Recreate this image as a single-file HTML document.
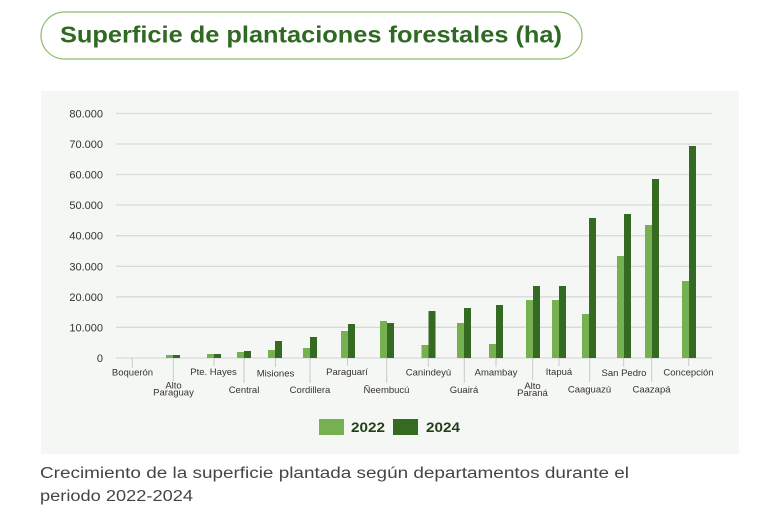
<!DOCTYPE html>
<html>
<head>
<meta charset="utf-8">
<style>
  html,body{margin:0;padding:0;background:#ffffff;}
  body{width:757px;height:521px;overflow:hidden;}
  svg{display:block;}
  text{font-family:"Liberation Sans", sans-serif;}
</style>
</head>
<body>
<svg width="757" height="521" viewBox="0 0 757 521" xmlns="http://www.w3.org/2000/svg">
  <!-- Title pill -->
  <rect x="41" y="12" width="541" height="47" rx="23.5" ry="23.5" fill="#ffffff" stroke="#8dbb6a" stroke-width="1.2"/>
  <text x="60" y="42.5" font-size="23" font-weight="bold" fill="#2f6a22" textLength="502" lengthAdjust="spacingAndGlyphs">Superficie de plantaciones forestales (ha)</text>

  <!-- Chart panel -->
  <rect x="41" y="91" width="698" height="363" fill="#f5f7f4"/>

  <!-- Gridlines -->
  <g stroke="#d9dad8" stroke-width="1.3">
    <line x1="116" y1="113.5" x2="712" y2="113.5"/>
    <line x1="116" y1="144" x2="712" y2="144"/>
    <line x1="116" y1="174.5" x2="712" y2="174.5"/>
    <line x1="116" y1="205" x2="712" y2="205"/>
    <line x1="116" y1="235.7" x2="712" y2="235.7"/>
    <line x1="116" y1="266.3" x2="712" y2="266.3"/>
    <line x1="116" y1="296.8" x2="712" y2="296.8"/>
    <line x1="116" y1="327.3" x2="712" y2="327.3"/>
    <line x1="116" y1="358" x2="712" y2="358"/>
  </g>

  <!-- Y labels -->
  <g font-size="11" fill="#333" text-anchor="end">
    <text x="103" y="117.5">80.000</text>
    <text x="103" y="148">70.000</text>
    <text x="103" y="178.5">60.000</text>
    <text x="103" y="209">50.000</text>
    <text x="103" y="239.7">40.000</text>
    <text x="103" y="270.3">30.000</text>
    <text x="103" y="300.8">20.000</text>
    <text x="103" y="331.3">10.000</text>
    <text x="103" y="362">0</text>
  </g>

  <!-- Bars -->
  <g>
    <!-- light 2022 -->
    <g fill="#77b050">
      <rect x="166" y="355" width="7" height="3"/>
      <rect x="207" y="354" width="7" height="4"/>
      <rect x="237" y="352" width="7" height="6"/>
      <rect x="268" y="350" width="7" height="8"/>
      <rect x="303" y="348" width="7" height="10"/>
      <rect x="341" y="331" width="7" height="27"/>
      <rect x="380" y="321" width="7" height="37"/>
      <rect x="421.5" y="345" width="7" height="13"/>
      <rect x="457" y="323" width="7" height="35"/>
      <rect x="489" y="344" width="7" height="14"/>
      <rect x="526" y="300" width="7" height="58"/>
      <rect x="552" y="300" width="7" height="58"/>
      <rect x="582" y="314" width="7" height="44"/>
      <rect x="617" y="256" width="7" height="102"/>
      <rect x="645" y="225" width="7" height="133"/>
      <rect x="682" y="281" width="7" height="77"/>
    </g>
    <!-- dark 2024 -->
    <g fill="#346a21">
      <rect x="173" y="355" width="7" height="3"/>
      <rect x="214" y="354" width="7" height="4"/>
      <rect x="244" y="351" width="7" height="7"/>
      <rect x="275" y="341" width="7" height="17"/>
      <rect x="310" y="337" width="7" height="21"/>
      <rect x="348" y="324" width="7" height="34"/>
      <rect x="387" y="323" width="7" height="35"/>
      <rect x="428.5" y="311" width="7" height="47"/>
      <rect x="464" y="308" width="7" height="50"/>
      <rect x="496" y="305" width="7" height="53"/>
      <rect x="533" y="286" width="7" height="72"/>
      <rect x="559" y="286" width="7" height="72"/>
      <rect x="589" y="218" width="7" height="140"/>
      <rect x="624" y="214" width="7" height="144"/>
      <rect x="652" y="179" width="7" height="179"/>
      <rect x="689" y="146" width="7" height="212"/>
    </g>
  </g>

  <!-- X ticks -->
  <g stroke="#c9cac8" stroke-width="1">
    <line x1="132.3" y1="358" x2="132.3" y2="368"/>
    <line x1="173.3" y1="358" x2="173.3" y2="381"/>
    <line x1="214" y1="358" x2="214" y2="366"/>
    <line x1="244" y1="358" x2="244" y2="383"/>
    <line x1="275.5" y1="358" x2="275.5" y2="367"/>
    <line x1="310" y1="358" x2="310" y2="383"/>
    <line x1="347.5" y1="358" x2="347.5" y2="366"/>
    <line x1="386.7" y1="358" x2="386.7" y2="383"/>
    <line x1="428.3" y1="358" x2="428.3" y2="367"/>
    <line x1="464.3" y1="358" x2="464.3" y2="383"/>
    <line x1="496" y1="358" x2="496" y2="367"/>
    <line x1="532.7" y1="358" x2="532.7" y2="380"/>
    <line x1="559" y1="358" x2="559" y2="366"/>
    <line x1="589.7" y1="358" x2="589.7" y2="382"/>
    <line x1="623.7" y1="358" x2="623.7" y2="367"/>
    <line x1="651.7" y1="358" x2="651.7" y2="382"/>
    <line x1="688.7" y1="358" x2="688.7" y2="366"/>
  </g>

  <!-- X labels -->
  <g font-size="9.5" fill="#333" text-anchor="middle">
    <text x="132.5" y="375.5">Boquerón</text>
    <text x="173.5" y="388.5">Alto</text>
    <text x="173.5" y="395.5">Paraguay</text>
    <text x="213.5" y="375">Pte. Hayes</text>
    <text x="244" y="393">Central</text>
    <text x="275.5" y="376.5">Misiones</text>
    <text x="310" y="393">Cordillera</text>
    <text x="347" y="375">Paraguarí</text>
    <text x="386.5" y="393">Ñeembucú</text>
    <text x="428.5" y="375.5">Canindeyú</text>
    <text x="464" y="393">Guairá</text>
    <text x="496" y="375.5">Amambay</text>
    <text x="532.5" y="389">Alto</text>
    <text x="532.5" y="396">Paraná</text>
    <text x="559" y="375">Itapuá</text>
    <text x="589.5" y="392.5">Caaguazú</text>
    <text x="624" y="376">San Pedro</text>
    <text x="651.5" y="392.5">Caazapá</text>
    <text x="688.5" y="375.5">Concepción</text>
  </g>

  <!-- Legend -->
  <rect x="319" y="419" width="25" height="16" fill="#77b050"/>
  <text x="351" y="432" font-size="13.5" font-weight="bold" fill="#23401a" textLength="34" lengthAdjust="spacingAndGlyphs">2022</text>
  <rect x="393" y="419" width="25" height="16" fill="#346a21"/>
  <text x="426" y="432" font-size="13.5" font-weight="bold" fill="#23401a" textLength="34" lengthAdjust="spacingAndGlyphs">2024</text>

  <!-- Caption -->
  <text x="40" y="478" font-size="15.5" fill="#454545" textLength="589" lengthAdjust="spacingAndGlyphs">Crecimiento de la superficie plantada según departamentos durante el</text>
  <text x="40" y="501" font-size="15.5" fill="#454545" textLength="153" lengthAdjust="spacingAndGlyphs">periodo 2022-2024</text>
</svg>
</body>
</html>
